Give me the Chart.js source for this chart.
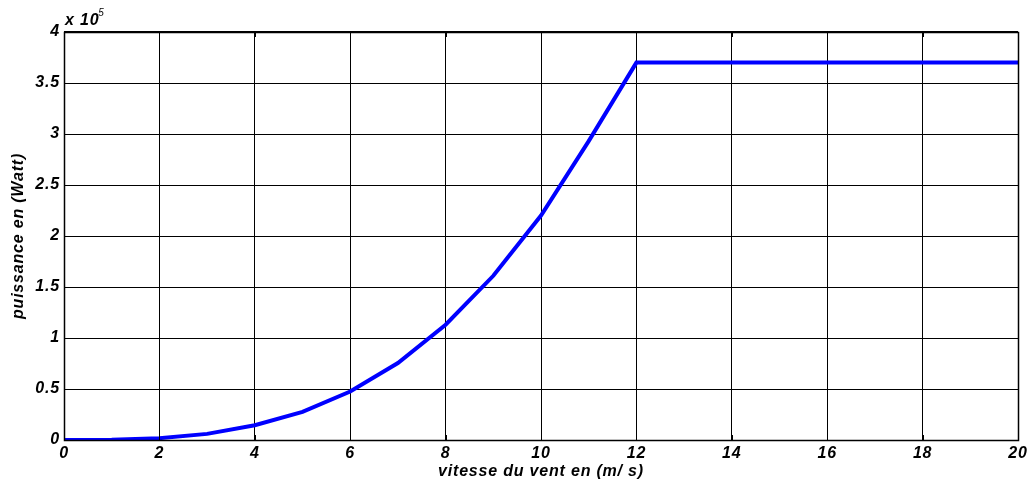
<!DOCTYPE html>
<html>
<head>
<meta charset="utf-8">
<script src="https://cdn.jsdelivr.net/npm/chart.js@4/dist/chart.umd.min.js"></script>
<style>
  html, body { margin: 0; padding: 0; background: #fff; }
  #wrap { width: 1031px; height: 488px; }
</style>
</head>
<body>
<div id="wrap"><canvas id="c"></canvas></div>
<script>
// wind speed (m/s) and turbine output power (W)
const windSpeed = [0, 1, 2, 3, 4, 5, 6, 7, 8, 9, 10, 11, 12, 13, 14, 15, 16, 17, 18, 19, 20]
const powerWatt = [0, 300, 1800, 6000, 14500, 27500, 47500, 75500, 113000, 161000, 220000,
    293000, 370000, 370000, 370000, 370000, 370000, 370000, 370000, 370000, 370000]

const xTicks = [0, 2, 4, 6, 8, 10, 12, 14, 16, 18, 20]
const yTicks = [0, 0.5, 1, 1.5, 2, 2.5, 3, 3.5, 4] // x 10^5
const yScaleExp = 5

const fontFamily = "'Liberation Sans', Arial, sans-serif"
const labelFont = { family: fontFamily, size: 16, weight: 'bold', style: 'italic' }

// MATLAB-like axes: full box, inner tick marks and the exponent label
const matlabAxes = {
    id: 'matlabAxes',
    beforeDraw(chart) {
        chart.ctx.letterSpacing = '0.8px'
    },
    afterDraw(chart) {
        const { ctx, chartArea: a, scales } = chart
        ctx.save()
        ctx.strokeStyle = '#000'
        ctx.lineWidth = 1
        ctx.beginPath()
        const tl = 5
        scales.x.ticks.forEach((t) => {
            const px = Math.round(scales.x.getPixelForValue(t.value)) + 0.5
            ctx.moveTo(px, a.bottom); ctx.lineTo(px, a.bottom - tl)
            ctx.moveTo(px, a.top); ctx.lineTo(px, a.top + tl)
        })
        scales.y.ticks.forEach((t) => {
            const py = Math.round(scales.y.getPixelForValue(t.value)) + 0.5
            ctx.moveTo(a.left, py); ctx.lineTo(a.left + tl, py)
            ctx.moveTo(a.right, py); ctx.lineTo(a.right - tl, py)
        })
        ctx.stroke()
        ctx.lineWidth = 1.5
        ctx.strokeRect(Math.round(a.left) + 0.5, Math.round(a.top) + 0.5,
            Math.round(a.right - a.left), Math.round(a.bottom - a.top))
        ctx.lineWidth = 2
        ctx.beginPath()
        ctx.moveTo(a.left, Math.round(a.top))
        ctx.lineTo(a.right, Math.round(a.top))
        ctx.stroke()

        ctx.fillStyle = '#000'
        ctx.textBaseline = 'alphabetic'
        ctx.textAlign = 'left'
        ctx.font = `italic bold 16px ${fontFamily}`
        const base = 'x 10'
        ctx.fillText(base, a.left + 1, 25)
        const w = ctx.measureText(base).width
        ctx.font = `italic 10px ${fontFamily}`
        ctx.fillText(String(yScaleExp), a.left + w, 16)
        ctx.restore()
    },
}

new Chart(document.getElementById('c'), {
    type: 'line',
    data: {
        datasets: [
            {
                data: windSpeed.map((v, i) => ({ x: v, y: powerWatt[i] })),
                borderColor: '#0000ff',
                borderWidth: 4,
                pointRadius: 0,
                tension: 0,
                fill: false,
            },
        ],
    },
    options: {
        responsive: true,
        maintainAspectRatio: false,
        animation: false,
        layout: { padding: { top: 32, right: 13, left: 0, bottom: 0 } },
        plugins: { legend: { display: false }, tooltip: { enabled: false } },
        scales: {
            x: {
                type: 'linear',
                min: 0,
                max: 20,
                afterFit: (s) => { s.height = 48 },
                afterBuildTicks: (s) => { s.ticks = xTicks.map((v) => ({ value: v })) },
                grid: { color: '#000', lineWidth: 1, drawTicks: false },
                border: { display: false },
                ticks: { color: '#000', font: labelFont, padding: 4, maxRotation: 0 },
                title: {
                    display: true,
                    text: 'vitesse du vent en (m/ s)',
                    color: '#000',
                    font: labelFont,
                    padding: { top: 0, bottom: 7 },
                },
            },
            y: {
                type: 'linear',
                min: 0,
                max: 400000,
                afterFit: (s) => { s.width = 64 },
                afterBuildTicks: (s) => { s.ticks = yTicks.map((v) => ({ value: v * Math.pow(10, yScaleExp) })) },
                grid: { color: '#000', lineWidth: 1, drawTicks: false },
                border: { display: false },
                ticks: {
                    color: '#000',
                    font: labelFont,
                    padding: 4,
                    callback: (v) => String(v / Math.pow(10, yScaleExp)),
                },
                title: {
                    display: true,
                    text: 'puissance en (Watt)',
                    color: '#000',
                    font: labelFont,
                    padding: { top: 9, bottom: 0 },
                },
            },
        },
    },
    plugins: [matlabAxes],
})
</script>
</body>
</html>
